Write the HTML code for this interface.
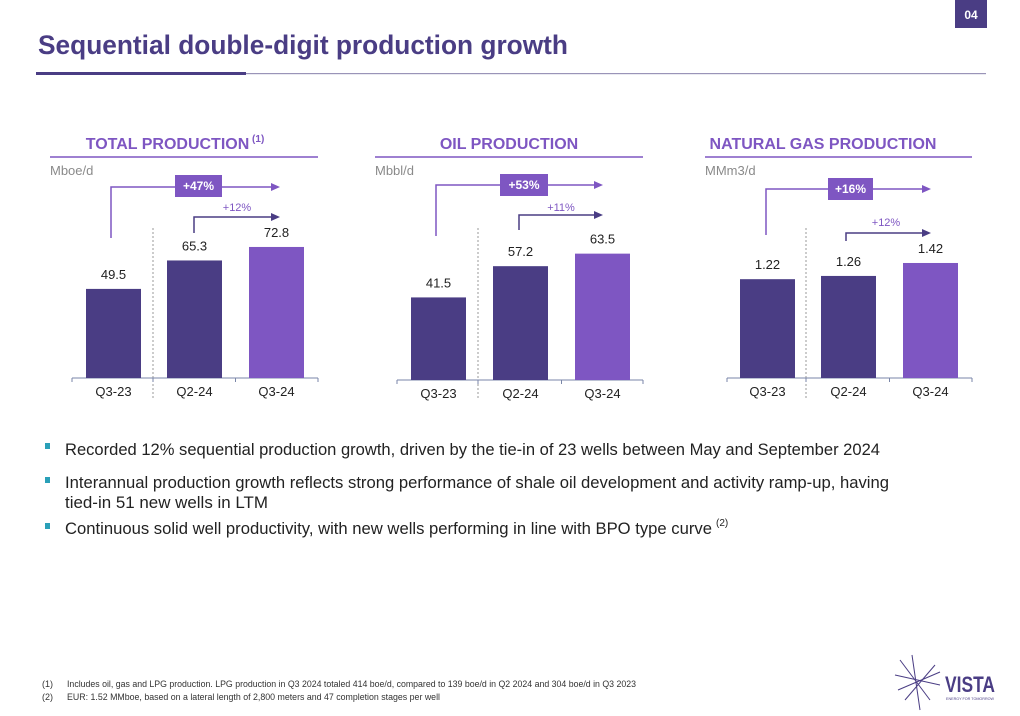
<!DOCTYPE html>
<html><head><meta charset="utf-8"><style>
html,body{margin:0;padding:0;background:#fff;}
svg{display:block;font-family:"Liberation Sans",sans-serif;}
</style></head><body>
<svg id="s" width="1020" height="716" viewBox="0 0 1020 716">
<rect x="955" y="0" width="32" height="28" fill="#4a3d84"/>
<text x="971" y="19" font-size="12" font-weight="bold" fill="#fff" text-anchor="middle">04</text>
<text x="38" y="54" font-size="27" font-weight="bold" fill="#4a3d84" textLength="530" lengthAdjust="spacingAndGlyphs">Sequential double-digit production growth</text>
<rect x="36" y="72" width="210" height="3" fill="#4a3d84"/>
<rect x="246" y="73" width="740" height="1.2" fill="#9a94b8"/>
<g id="charts"></g>
<g font-size="17" fill="#222">
<rect x="45" y="443" width="5" height="6" fill="#2aa0b8"/>
<text x="65" y="455" textLength="815" lengthAdjust="spacingAndGlyphs">Recorded 12% sequential production growth, driven by the tie-in of 23 wells between May and September 2024</text>
<rect x="45" y="477" width="5" height="6" fill="#2aa0b8"/>
<text x="65" y="488" textLength="824" lengthAdjust="spacingAndGlyphs">Interannual production growth reflects strong performance of shale oil development and activity ramp-up, having</text>
<text x="65" y="508" textLength="203" lengthAdjust="spacingAndGlyphs">tied-in 51 new wells in LTM</text>
<rect x="45" y="523" width="5" height="6" fill="#2aa0b8"/>
<text x="65" y="534" textLength="647" lengthAdjust="spacingAndGlyphs">Continuous solid well productivity, with new wells performing in line with BPO type curve</text>
<text x="716" y="526" font-size="10">(2)</text>
</g>
<g font-size="9" fill="#333">
<text x="42" y="687">(1)</text>
<text x="67" y="687" textLength="569" lengthAdjust="spacingAndGlyphs">Includes oil, gas and LPG production. LPG production in Q3 2024 totaled 414 boe/d, compared to 139 boe/d in Q2 2024 and 304 boe/d in Q3 2023</text>
<text x="42" y="700">(2)</text>
<text x="67" y="700" textLength="373" lengthAdjust="spacingAndGlyphs">EUR: 1.52 MMboe, based on a lateral length of 2,800 meters  and 47 completion stages per well</text>
</g>
<g>
<g stroke="#4a3d84" stroke-width="1">
<line x1="900" y1="660" x2="930" y2="700"/><line x1="895" y1="675" x2="940" y2="685"/><line x1="912" y1="655" x2="920" y2="710"/><line x1="935" y1="665" x2="905" y2="700"/><line x1="898" y1="690" x2="940" y2="672"/>
</g>
<text x="945" y="692" font-size="22" font-weight="bold" fill="#4a3d84" textLength="50" lengthAdjust="spacingAndGlyphs">VISTA</text>
<text x="946" y="700" font-size="4" fill="#4a3d84" textLength="48" lengthAdjust="spacingAndGlyphs">ENERGY FOR TOMORROW</text>
</g>
</svg>
<script>
const categories = ["Q3-23","Q2-24","Q3-24"];
const totalValues = [49.5, 65.3, 72.8];
const oilValues = [41.5, 57.2, 63.5];
const gasValues = [1.22, 1.26, 1.42];
const totalLabels = ["49.5","65.3","72.8"];
const oilLabels = ["41.5","57.2","63.5"];
const gasLabels = ["1.22","1.26","1.42"];
const titles = ["TOTAL PRODUCTION","OIL PRODUCTION","NATURAL GAS PRODUCTION"];
const units = ["Mboe/d","Mbbl/d","MMm3/d"];
const yoyGrowth = ["+47%","+53%","+16%"];
const qoqGrowth = ["+12%","+11%","+12%"];

const NS = "http://www.w3.org/2000/svg";
const root = document.getElementById('charts');
function mk(tag, attrs, parent){const e=document.createElementNS(NS,tag);for(const k in attrs)e.setAttribute(k,attrs[k]);(parent||root).appendChild(e);return e;}
const panels = [
 {x0:50,x1:318,base:378,scale:1.8,bars:[86,167,249],vals:totalValues,labs:totalLabels,cap:175,big:[111,238,187,280],box:[175,175,47],small:[194,233,217,280],sl:[237,211],sep:153},
 {x0:375,x1:643,base:380,scale:1.99,bars:[411,493,575],vals:oilValues,labs:oilLabels,cap:509,big:[436,236,185,603],box:[500,174,48],small:[519,230,215,603],sl:[561,211],sep:478},
 {x0:705,x1:972,base:378,scale:81,bars:[740,821,903],vals:gasValues,labs:gasLabels,cap:823,big:[766,235,189,931],box:[828,178,45],small:[846,241,233,931],sl:[886,226],sep:806}
];
const colors=["#4a3d84","#4a3d84","#7e56c2"];
panels.forEach((p,i)=>{
 const g=mk('g',{});
 
 
 const yScale=v=>p.base-v*p.scale;
 const t=mk('text',{x:p.cap,y:149,'font-size':16,'font-weight':'bold',fill:'#7e56c2','text-anchor':'middle'},g);
 t.textContent=titles[i];
 
 
 if(i===0){const sp=mk('tspan',{'font-size':10,dy:-7},t);sp.textContent=' (1)';}
 const ul=mk('line',{x1:p.x0,x2:p.x1,y1:157,y2:157,stroke:'#7e56c2','stroke-width':1.5},g);
 
 
 const u=mk('text',{x:p.x0,y:175,'font-size':13,fill:'#8a8a8a'},g);
 u.textContent=units[i];
 
 
 const sep=mk('line',{x1:p.sep,x2:p.sep,y1:228,y2:398,stroke:'#999','stroke-dasharray':'2,2'},g);
 
 
 const ax=mk('line',{x1:p.x0+22,x2:p.x1,y1:p.base,y2:p.base,stroke:'#7a86a8','stroke-width':1},g);
 
 
 [p.x0+22,p.sep,(p.bars[1]+p.bars[2]+55)/2,p.x1].forEach(x=>{const tk=mk('line',{x1:x,x2:x,y1:p.base,y2:p.base+4,stroke:'#7a86a8'},g);
  
  });
 p.vals.forEach((v,j)=>{
  const y=yScale(v);
  const r=mk('rect',{x:p.bars[j],y:y,width:55,height:p.base-y,fill:colors[j]},g);
  
  
  const vl=mk('text',{x:p.bars[j]+27.5,y:y-10,'font-size':13,fill:'#222','text-anchor':'middle'},g);
  vl.textContent=p.labs[j];
  
  
  const cl=mk('text',{x:p.bars[j]+27.5,y:p.base+18,'font-size':13,fill:'#222','text-anchor':'middle'},g);
  cl.textContent=categories[j];
  
  
 });
 const [bx,by1,by2,bx2]=p.big;
 const bp=mk('polyline',{points:`${bx},${by1} ${bx},${by2} ${bx2-8},${by2}`,fill:'none',stroke:'#7e56c2','stroke-width':1.5},g);
 
 
 mk('polygon',{points:`${bx2-9},${by2-4} ${bx2},${by2} ${bx2-9},${by2+4}`,fill:'#7e56c2'},g);
 const bb=mk('rect',{x:p.box[0],y:p.box[1],width:p.box[2],height:22,fill:'#7e56c2'},g);
 
 
 const bt=mk('text',{x:p.box[0]+p.box[2]/2,y:p.box[1]+15,'font-size':12,'font-weight':'bold',fill:'#fff','text-anchor':'middle'},g);
 bt.textContent=yoyGrowth[i];
 
 
 const [sx,sy1,sy2,sx2]=p.small;
 const sp2=mk('polyline',{points:`${sx},${sy1} ${sx},${sy2} ${sx2-8},${sy2}`,fill:'none',stroke:'#4a3d84','stroke-width':1.5},g);
 
 
 mk('polygon',{points:`${sx2-9},${sy2-4} ${sx2},${sy2} ${sx2-9},${sy2+4}`,fill:'#4a3d84'},g);
 const st=mk('text',{x:p.sl[0],y:p.sl[1],'font-size':11,fill:'#7e56c2','text-anchor':'middle'},g);
 st.textContent=qoqGrowth[i];
 
 
});
</script>
</body></html>
